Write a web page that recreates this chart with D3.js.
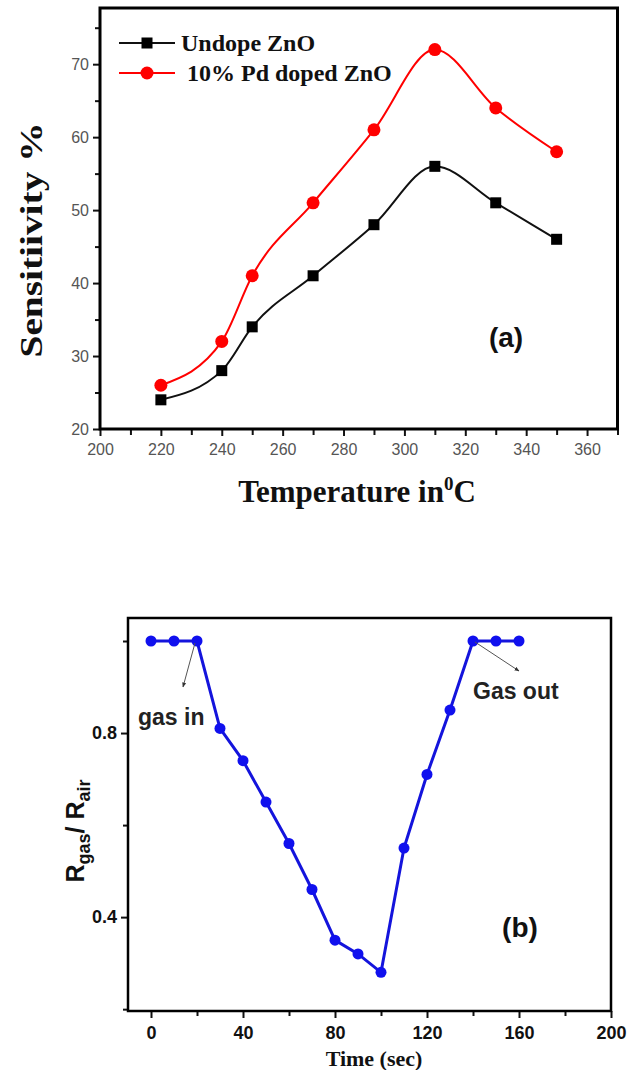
<!DOCTYPE html>
<html lang="en">
<head>
<meta charset="UTF-8">
<title>ZnO sensitivity and response</title>
<style>
  body { margin: 0; background: #fff; }
  svg  { display: block; }
  .serif { font-family: "Liberation Serif", "Times New Roman", serif; font-weight: bold; fill: #111; }
  .sans  { font-family: "Liberation Sans", Arial, sans-serif; }
  .axis path, .axis line { stroke: #111; }
</style>
</head>
<body>
<svg id="chart" width="630" height="1070"></svg>

<script src="https://d3js.org/d3.v7.min.js"></script>
<script>
/* ---------------- Data : panel (a) ---------------- */
const temps      = [220, 240, 250, 270, 290, 310, 330, 350];
const undoped    = [24, 28, 34, 41, 48, 56, 51, 46];
const pdDoped    = [26, 32, 41, 51, 61, 72, 64, 58];
const tempTicks  = [200, 220, 240, 260, 280, 300, 320, 340, 360];
const sensTicks  = [20, 30, 40, 50, 60, 70];

/* ---------------- Data : panel (b) ---------------- */
const times      = [0, 10, 20, 30, 40, 50, 60, 70, 80, 90, 100, 110, 120, 130, 140, 150, 160];
const ratio      = [1.0, 1.0, 1.0, 0.81, 0.74, 0.65, 0.56, 0.46, 0.35, 0.32, 0.28, 0.55, 0.71, 0.85, 1.0, 1.0, 1.0];
const timeTicks  = [0, 40, 80, 120, 160, 200];
const ratioTicks = [0.4, 0.8];

const svg = d3.select('#chart');

// draw a closed box along the scale ranges
function frame(g, x, y, w) {
  const [x0, x1] = x.range(), [y0, y1] = y.range();
  g.append('path')
    .attr('d', `M${x0},${y0}L${x0},${y1}L${x1},${y1}L${x1},${y0}Z`)
    .attr('fill', 'none').attr('stroke', '#000').attr('stroke-width', w)
    .attr('stroke-linejoin', 'miter');
}

/* =============== Panel (a) =============== */
const xa = d3.scaleLinear().domain([200, 370]).range([100, 617.5]);
const ya = d3.scaleLinear().domain([20, 77.7]).range([429, 8]);
const ga = svg.append('g');

// minor ticks first, then majors with labels
ga.append('g').attr('class', 'axis')
  .attr('transform', `translate(0,${ya.range()[0]})`)
  .call(d3.axisBottom(xa).tickValues(d3.range(210, 371, 20)).tickSize(6).tickFormat(''))
  .call(a => a.select('.domain').remove());
ga.append('g').attr('class', 'axis')
  .attr('transform', `translate(0,${ya.range()[0]})`)
  .call(d3.axisBottom(xa).tickValues(tempTicks).tickSize(7).tickSizeOuter(0).tickPadding(8))
  .call(a => a.selectAll('text').attr('class', 'sans').attr('font-size', 16).attr('fill', '#555'));
ga.append('g').attr('class', 'axis')
  .attr('transform', `translate(${xa.range()[0]},0)`)
  .call(d3.axisLeft(ya).tickValues(d3.range(25, 78, 10)).tickSize(5).tickFormat(''))
  .call(a => a.select('.domain').remove());
ga.append('g').attr('class', 'axis')
  .attr('transform', `translate(${xa.range()[0]},0)`)
  .call(d3.axisLeft(ya).tickValues(sensTicks).tickSize(7).tickSizeOuter(0).tickPadding(4))
  .call(a => a.selectAll('text').attr('class', 'sans').attr('font-size', 16).attr('fill', '#555'));
ga.selectAll('.axis line').attr('stroke-width', 2);

const lineA = d3.line().x(d => xa(d[0])).y(d => ya(d[1])).curve(d3.curveMonotoneX);

ga.append('path').datum(temps.map((t, i) => [t, undoped[i]]))
  .attr('d', lineA).attr('fill', 'none').attr('stroke', '#111').attr('stroke-width', 2);
ga.append('path').datum(temps.map((t, i) => [t, pdDoped[i]]))
  .attr('d', lineA).attr('fill', 'none').attr('stroke', '#f00').attr('stroke-width', 2);

ga.selectAll('rect.sq').data(temps).enter().append('rect').attr('class', 'sq')
  .attr('x', (d) => xa(d) - 5.5).attr('y', (d, i) => ya(undoped[i]) - 5.5)
  .attr('width', 11).attr('height', 11).attr('fill', '#000');
ga.selectAll('circle.rd').data(temps).enter().append('circle').attr('class', 'rd')
  .attr('cx', d => xa(d)).attr('cy', (d, i) => ya(pdDoped[i])).attr('r', 6.5).attr('fill', '#f00');

frame(ga, xa, ya, 3);

// legend
const legend = [
  {label: 'Undope ZnO', color: '#111', shape: 'sq', y: 43},
  {label: '\u00a010% Pd doped ZnO', color: '#f00', shape: 'ci', y: 73}
];
legend.forEach(l => {
  ga.append('line').attr('x1', 119).attr('x2', 175).attr('y1', l.y).attr('y2', l.y)
    .attr('stroke', l.color).attr('stroke-width', 2);
  if (l.shape === 'sq')
    ga.append('rect').attr('x', 141.5).attr('y', l.y - 5.5).attr('width', 11).attr('height', 11).attr('fill', '#000');
  else
    ga.append('circle').attr('cx', 147).attr('cy', l.y).attr('r', 6.5).attr('fill', '#f00');
  ga.append('text').attr('class', 'serif').attr('x', 181).attr('y', l.y + 8)
    .attr('font-size', 24).text(l.label);
});

ga.append('text').attr('class', 'sans').attr('x', 506).attr('y', 347)
  .attr('text-anchor', 'middle').attr('font-size', 28).attr('font-weight', 'bold').attr('fill', '#111')
  .text('(a)');

// axis titles
ga.append('text').attr('class', 'serif')
  .attr('transform', 'translate(42,240) rotate(-90)')
  .attr('text-anchor', 'middle').attr('font-size', 32)
  .attr('textLength', 235).attr('lengthAdjust', 'spacingAndGlyphs')
  .text('Sensitiivity %');

const xt = ga.append('text').attr('class', 'serif')
  .attr('x', 357).attr('y', 502).attr('text-anchor', 'middle').attr('font-size', 31);
xt.append('tspan').text('Temperature in');
xt.append('tspan').attr('dy', -12).attr('font-size', 19).text('0');
xt.append('tspan').attr('dy', 12).text('C');

/* =============== Panel (b) =============== */
const xb = d3.scaleLinear().domain([-10, 200]).range([128, 611]);
const yb = d3.scaleLinear().domain([0.196, 1.05]).range([1011, 618]);
const gb = svg.append('g');

gb.append('g').attr('class', 'axis')
  .attr('transform', `translate(0,${yb.range()[0]})`)
  .call(d3.axisBottom(xb).tickValues(d3.range(20, 181, 40)).tickSize(5).tickFormat(''))
  .call(a => a.select('.domain').remove());
gb.append('g').attr('class', 'axis')
  .attr('transform', `translate(0,${yb.range()[0]})`)
  .call(d3.axisBottom(xb).tickValues(timeTicks).tickSize(7).tickSizeOuter(0).tickPadding(8))
  .call(a => a.selectAll('text').attr('class', 'sans').attr('font-size', 18).attr('font-weight', 'bold').attr('fill', '#111'));
gb.append('g').attr('class', 'axis')
  .attr('transform', `translate(${xb.range()[0]},0)`)
  .call(d3.axisLeft(yb).tickValues([0.2, 0.6, 1.0]).tickSize(5).tickFormat(''))
  .call(a => a.select('.domain').remove());
gb.append('g').attr('class', 'axis')
  .attr('transform', `translate(${xb.range()[0]},0)`)
  .call(d3.axisLeft(yb).tickValues(ratioTicks).tickSize(7).tickSizeOuter(0).tickPadding(4).tickFormat(d3.format('.1f')))
  .call(a => a.selectAll('text').attr('class', 'sans').attr('font-size', 18).attr('font-weight', 'bold').attr('fill', '#111'));
gb.selectAll('.axis line').attr('stroke-width', 2);

const lineB = d3.line().x(d => xb(d[0])).y(d => yb(d[1]));
gb.append('path').datum(times.map((t, i) => [t, ratio[i]]))
  .attr('d', lineB).attr('fill', 'none').attr('stroke', '#1414dc').attr('stroke-width', 3);
gb.selectAll('circle').data(times).enter().append('circle')
  .attr('cx', d => xb(d)).attr('cy', (d, i) => yb(ratio[i])).attr('r', 5.5).attr('fill', '#1010ee');

frame(gb, xb, yb, 2.5);

// annotations
svg.append('defs').append('marker')
  .attr('id', 'arr').attr('viewBox', '0 0 10 10').attr('refX', 9).attr('refY', 5)
  .attr('markerWidth', 5).attr('markerHeight', 5).attr('orient', 'auto')
  .append('path').attr('d', 'M0,1L10,5L0,9Z').attr('fill', '#333');
gb.append('line').attr('x1', xb(20) - 2).attr('y1', yb(1.0) + 2).attr('x2', 183).attr('y2', 687)
  .attr('stroke', '#555').attr('stroke-width', 1).attr('marker-end', 'url(#arr)');
gb.append('line').attr('x1', xb(140) + 2).attr('y1', yb(1.0) + 1).attr('x2', 519).attr('y2', 671)
  .attr('stroke', '#555').attr('stroke-width', 1).attr('marker-end', 'url(#arr)');
gb.append('text').attr('class', 'sans').attr('x', 138).attr('y', 725)
  .attr('font-size', 23).attr('font-weight', 'bold').attr('fill', '#222').text('gas in');
gb.append('text').attr('class', 'sans').attr('x', 473).attr('y', 699)
  .attr('font-size', 23).attr('font-weight', 'bold').attr('fill', '#222').text('Gas out');
gb.append('text').attr('class', 'sans').attr('x', 520).attr('y', 937)
  .attr('text-anchor', 'middle').attr('font-size', 28).attr('font-weight', 'bold').attr('fill', '#111')
  .text('(b)');

// axis titles
const yt = gb.append('text').attr('class', 'sans')
  .attr('transform', 'translate(84,831) rotate(-90)')
  .attr('text-anchor', 'middle').attr('font-size', 25).attr('font-weight', 'bold').attr('fill', '#111');
yt.append('tspan').text('R');
yt.append('tspan').attr('dy', 6).attr('font-size', 18).text('gas');
yt.append('tspan').attr('dy', -6).text('/ R');
yt.append('tspan').attr('dy', 6).attr('font-size', 18).text('air');

gb.append('text').attr('class', 'serif').attr('x', 374).attr('y', 1066)
  .attr('text-anchor', 'middle').attr('font-size', 22).text('Time (sec)');
</script>
</body>
</html>
